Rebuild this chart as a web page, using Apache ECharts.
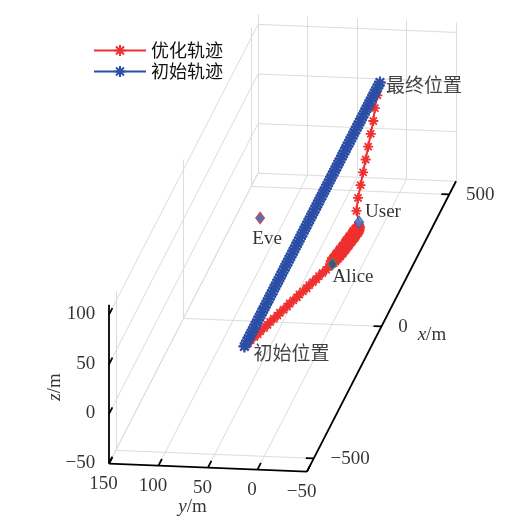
<!DOCTYPE html>
<html>
<head>
<meta charset="utf-8">
<script src="https://cdn.jsdelivr.net/npm/echarts@6/dist/echarts.min.js"></script>
<style>
html, body { margin: 0; padding: 0; background: #fff; }
#chart--trajectory { width: 532px; height: 531px; }
</style>
</head>
<body>
<div id="chart--trajectory"></div>
<script>
// axis limits and ticks (m)
const xLimits = [-550, 550];
const yLimits = [-50, 150];
const zLimits = [-50, 110];
const xTicks = [-500, 0, 500];
const yTicks = [150, 100, 50, 0, -50];
const zTicks = [-50, 0, 50, 100];

// UAV flies at a fixed height
const uavHeight = 60;

// 初始轨迹: straight flight along x at y = 20
const initialY = 20;
const initialX = [
    -500, -490, -480, -470, -460, -450, -440, -430, -420, -410,
    -400, -390, -380, -370, -360, -350, -340, -330, -320, -310,
    -300, -290, -280, -270, -260, -250, -240, -230, -220, -210,
    -200, -190, -180, -170, -160, -150, -140, -130, -120, -110,
    -100, -90, -80, -70, -60, -50, -40, -30, -20, -10,
    0, 10, 20, 30, 40, 50, 60, 70, 80, 90,
    100, 110, 120, 130, 140, 150, 160, 170, 180, 190,
    200, 210, 220, 230, 240, 250, 260, 270, 280, 290,
    300, 310, 320, 330, 340, 350, 360, 370, 380, 390,
    400, 410, 420, 430, 440, 450, 460, 470, 480, 490,
    500
];

// 优化轨迹: fast leg, slow wobbling leg between Alice and User, fast leg
const optimizedX = [
    -500, -488, -476, -464, -453, -441, -429, -417, -405, -393,
    -381, -370, -358, -346, -334, -322, -310, -299, -287, -275,
    -263, -251, -240, -228, -216, -204, -192, -180,
    -177, -175, -172, -170, -167, -165, -162, -160, -157, -155,
    -152, -150, -147, -145, -142, -140, -137, -135, -132, -130,
    -127, -125, -122, -120, -117, -115, -112, -110, -107, -105,
    -102, -100, -97, -95, -92, -90, -87, -85, -82, -80,
    -77, -75, -72, -70, -67, -65, -62, -60, -57, -55,
    -52, -50, -47, -45, -42, -40, -37, -35, -34, -33, -32,
    20, 68, 116, 164, 212, 260, 308, 356, 404, 452, 500
];
const optimizedY = [
    20, 18, 17, 15, 13, 12, 10, 8, 7, 5,
    3, 2, 0, -2, -3, -5, -7, -8, -10, -12,
    -13, -15, -17, -18, -20, -22, -23, -25,
    -26, -23, -27, -22, -27, -23, -28, -23,
    -28, -23, -29, -24, -29, -24, -30, -24, -30,
    -25, -30, -25, -31, -25, -31, -26, -31, -26,
    -32, -26, -32, -27, -32, -27, -33, -27, -33,
    -27, -33, -28, -34, -28, -34, -28, -34, -29,
    -34, -29, -35, -29, -35, -29, -35, -30, -34,
    -30, -34, -31, -33, -31, -32, -31, -31,
    -22, -17, -13, -9, -5, -1, 3, 7, 12, 16, 20
];

// ground nodes
const nodeNames = ['Alice', 'User', 'Eve'];
const nodeX = [40, 200, 200];
const nodeY = [5, 0, 100];
const nodeZ = [0, 0, 0];

const red = '#ef3030';
const blue = '#2b4ea6';
const gridColour = '#dcdcdc';
const serif = '"Liberation Serif", "DejaVu Serif", serif';
const cjk = '"Noto Sans CJK SC", sans-serif';
const asterisk = 'path://M-0.9,-5L0.9,-5L0.9,5L-0.9,5ZM-5,-0.9L5,-0.9L5,0.9L-5,0.9Z' +
    'M-4.17,-2.9L-2.9,-4.17L4.17,2.9L2.9,4.17ZM2.9,-4.17L4.17,-2.9L-2.9,4.17L-4.17,2.9Z';

// orthographic view, like view(az, el)
const view = { azimuth: -81.8, elevation: 16.3 };
const pxPerUnit = { x: 0.95, y: 1.0, z: 1.034 };
const viewCentre = { data: [0, 50, 30], screen: [282.5, 243] };

function project(x, y, z) {
    const az = view.azimuth * Math.PI / 180;
    const el = view.elevation * Math.PI / 180;
    const dx = (x - viewCentre.data[0]) * pxPerUnit.x;
    const dy = (y - viewCentre.data[1]) * pxPerUnit.y;
    const dz = (z - viewCentre.data[2]) * pxPerUnit.z;
    const u = dx * Math.cos(az) + dy * Math.sin(az);
    const v = -dx * Math.sin(az) * Math.sin(el) + dy * Math.cos(az) * Math.sin(el) + dz * Math.cos(el);
    return [viewCentre.screen[0] + u, viewCentre.screen[1] - v];
}

function segment(a, b) {
    return { coords: [project(a[0], a[1], a[2]), project(b[0], b[1], b[2])] };
}

function tickText(value) {
    return value < 0 ? '\u2212' + Math.abs(value) : String(value);
}

const [x0, x1] = xLimits;
const [y0, y1] = yLimits;
const [z0, z1] = zLimits;

// grid on floor, back wall and side wall
const gridSegments = [];
for (const y of yTicks) gridSegments.push(segment([x0, y, z0], [x1, y, z0]));
for (const x of xTicks) gridSegments.push(segment([x, y0, z0], [x, y1, z0]));
for (const y of yTicks) gridSegments.push(segment([x1, y, z0], [x1, y, z1]));
for (const z of zTicks) gridSegments.push(segment([x1, y0, z], [x1, y1, z]));
for (const x of xTicks) gridSegments.push(segment([x, y1, z0], [x, y1, z1]));
for (const z of zTicks) gridSegments.push(segment([x0, y1, z], [x1, y1, z]));

const axisSegments = [
    segment([x0, y1, z0], [x0, y1, z1]),
    segment([x0, y1, z0], [x0, y0, z0]),
    segment([x0, y0, z0], [x1, y0, z0])
];
for (const z of zTicks) axisSegments.push(segment([x0, y1, z], [x0 + 25, y1, z]));
for (const y of yTicks) axisSegments.push(segment([x0, y, z0], [x0 + 25, y, z0]));
for (const x of xTicks) axisSegments.push(segment([x, y0, z0], [x, y0 + 8, z0]));

const axisLabels = [];
for (const z of zTicks) {
    axisLabels.push({ name: tickText(z), value: project(x0, y1 + 14, z),
        label: { align: 'right', verticalAlign: 'middle' } });
}
for (const y of yTicks) {
    axisLabels.push({ name: tickText(y), value: project(x0 - 40, y, z0),
        label: { align: 'center', verticalAlign: 'top' } });
}
for (const x of xTicks) {
    axisLabels.push({ name: tickText(x), value: project(x, y0 - 17, z0),
        label: { align: 'left', verticalAlign: 'middle' } });
}
const italic = { fontStyle: 'italic', fontFamily: serif, fontSize: 19, color: '#000' };
const upright = { fontFamily: serif, fontSize: 19, color: '#000' };
axisLabels.push({ name: 'x', value: project(-25, y0 - 40, z0),
    label: { align: 'left', verticalAlign: 'middle', formatter: '{i|x}{r|/m}', rich: { i: italic, r: upright } } });
axisLabels.push({ name: 'y', value: project(x0 - 150, 45, z0),
    label: { align: 'center', verticalAlign: 'middle', formatter: '{i|y}{r|/m}', rich: { i: italic, r: upright } } });
axisLabels.push({ name: 'z', value: project(x0, y1 + 55, 25),
    label: { align: 'center', verticalAlign: 'middle', rotate: 90, formatter: '{i|z}{r|/m}', rich: { i: italic, r: upright } } });

const initialData = initialX.map((x) => project(x, initialY, uavHeight));
const optimizedData = optimizedX.map((x, i) => project(x, optimizedY[i], uavHeight));

const nodeStyles = {
    Alice: { fill: '#2d4f9e', border: '#3f9a4a', offset: [-10, 13] },
    User: { fill: '#3a86d4', border: '#2c5fb0', offset: [-4, -10] },
    Eve: { fill: '#2d4f9e', border: '#e03a3a', offset: [7, 0] }
};
const nodeData = nodeNames.map((name, i) => {
    const style = nodeStyles[name];
    return {
        name,
        value: project(nodeX[i], nodeY[i], nodeZ[i]),
        itemStyle: { color: style.fill, borderColor: style.border, borderWidth: 1 },
        label: name === 'Eve'
            ? { position: 'bottom', offset: style.offset }
            : { position: 'right', offset: style.offset }
    };
});

const endpointData = [
    { name: '初始位置', value: project(initialX[0], initialY, uavHeight), label: { offset: [4, 6] } },
    { name: '最终位置', value: project(initialX[initialX.length - 1], initialY, uavHeight), label: { offset: [1, 2] } }
];

const chart = echarts.init(document.querySelector('#chart--trajectory'));
chart.setOption({
    animation: false,
    backgroundColor: '#fff',
    grid: { left: 0, right: 0, top: 0, bottom: 0 },
    xAxis: { type: 'value', min: 0, max: 532, show: false },
    yAxis: { type: 'value', min: 0, max: 531, inverse: true, show: false },
    legend: {
        data: ['优化轨迹', '初始轨迹'],
        orient: 'vertical',
        left: 88,
        top: 36,
        itemWidth: 52,
        itemHeight: 14,
        itemGap: 2,
        textStyle: { fontSize: 18, fontFamily: cjk, color: '#111', lineHeight: 19 }
    },
    series: [
        {
            type: 'lines',
            coordinateSystem: 'cartesian2d',
            silent: true,
            z: 1,
            lineStyle: { color: gridColour, width: 1, opacity: 1 },
            data: gridSegments
        },
        {
            type: 'lines',
            coordinateSystem: 'cartesian2d',
            silent: true,
            z: 2,
            lineStyle: { color: '#000', width: 1.8, opacity: 1 },
            data: axisSegments
        },
        {
            type: 'scatter',
            silent: true,
            symbolSize: 0,
            z: 2,
            label: { show: true, position: 'inside', formatter: '{b}', fontFamily: serif, fontSize: 19, color: '#000' },
            data: axisLabels
        },
        {
            type: 'line',
            name: '优化轨迹',
            z: 3,
            data: optimizedData,
            symbol: asterisk,
            symbolSize: 10,
            showSymbol: true,
            showAllSymbol: true,
            lineStyle: { color: red, width: 2 },
            itemStyle: { color: red }
        },
        {
            type: 'line',
            name: '初始轨迹',
            z: 4,
            data: initialData,
            symbol: asterisk,
            symbolSize: 12,
            showSymbol: true,
            showAllSymbol: true,
            lineStyle: { color: blue, width: 2 },
            itemStyle: { color: blue }
        },
        {
            type: 'scatter',
            z: 5,
            symbol: 'diamond',
            symbolSize: [9, 12],
            label: { show: true, formatter: '{b}', fontFamily: serif, fontSize: 19, color: '#000' },
            data: nodeData
        },
        {
            type: 'scatter',
            z: 5,
            symbolSize: 0,
            label: { show: true, position: 'right', formatter: '{b}', fontFamily: cjk, fontSize: 19, color: '#111' },
            data: endpointData
        }
    ]
});
</script>
</body>
</html>
